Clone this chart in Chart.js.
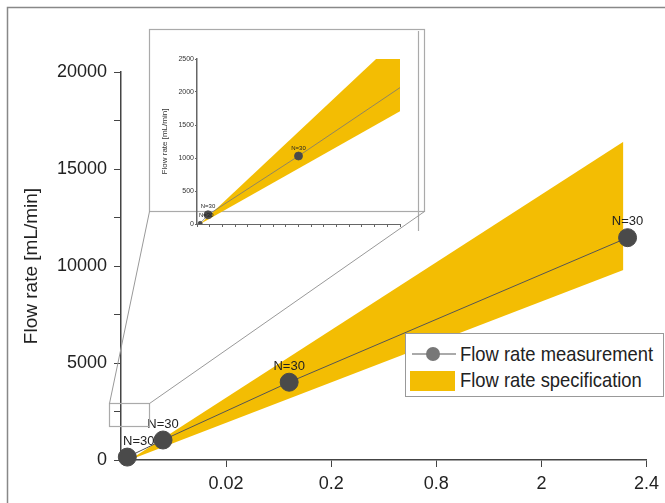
<!DOCTYPE html>
<html>
<head>
<meta charset="utf-8">
<script src="https://cdn.jsdelivr.net/npm/chart.js@4.4.1/dist/chart.umd.min.js"></script>
<style>
  html, body { margin: 0; padding: 0; background: #fff; }
  #wrap { position: relative; width: 665px; height: 503px; overflow: hidden; }
  #main { position: absolute; left: 0; top: 0; }
  #inset { position: absolute; left: 150px; top: 48px; }
  #legend {
    position: absolute; left: 405px; top: 333px; width: 259px; height: 64px;
    border: 1px solid #999; background: #fff; box-sizing: border-box;
    font-family: "Liberation Sans", Arial, sans-serif;
    font-size: 21px; color: #222;
  }
  .item { position: absolute; left: 0; width: 258px; height: 26px; line-height: 26px; }
  .item span {
    position: absolute; left: 54px; white-space: nowrap;
    transform: scaleX(0.875); transform-origin: left center;
  }
</style>
</head>
<body>
<div id="wrap">
  <canvas id="main" width="665" height="503"></canvas>
  <canvas id="inset" width="262" height="186"></canvas>
  <div id="legend">
    <div class="item" style="top:7px;">
      <svg width="50" height="26" style="position:absolute;left:4px;top:0;">
        <line x1="2" y1="13" x2="46" y2="13" stroke="#aaa" stroke-width="2"/>
        <circle cx="23" cy="13" r="7" fill="#777"/>
      </svg>
      <span>Flow rate measurement</span>
    </div>
    <div class="item" style="top:33px;">
      <div style="position:absolute;left:4px;top:4px;width:45px;height:20px;background:#F3BD03;"></div>
      <span>Flow rate specification</span>
    </div>
  </div>
</div>
<script>
// main chart data
const xTickLabels = ['', '0.02', '0.2', '0.8', '2', '2.4'];
const measX = [0.06, 0.40, 1.60, 4.82];
const measY = [150, 1030, 4010, 11460];
const nLabels = ['N=30', 'N=30', 'N=30', 'N=30'];
const specX = [0.08, 4.78];
const specUpper = [0, 16400];
const specLower = [0, 9800];

// inset (zoomed) data
const insetMeasX = [0.25, 0.87, 8.0, 31];
const insetMeasY = [10, 140, 1030, 4010];
const insetLabels = ['N=30', 'N=30', 'N=30', ''];
const insetSpecX = [0.25, 16];
const insetSpecUpper = [0, 2840];
const insetSpecLower = [0, 1710];

const yellow = '#F3BD03';
const sans = '"Liberation Sans", Arial, sans-serif';

function pts(xs, ys) {
    return xs.map((x, i) => ({ x: x, y: ys[i] }));
}

// draws the N=30 text above each measurement point
function nLabelPlugin(labels, font, gap) {
    return {
        id: 'nlabels',
        afterDatasetsDraw(chart) {
            const meta = chart.getDatasetMeta(2);
            const ctx = chart.ctx;
            ctx.save();
            ctx.font = font;
            ctx.fillStyle = '#222';
            ctx.textAlign = 'center';
            ctx.textBaseline = 'middle';
            meta.data.forEach((p, i) => {
                if (!labels[i] || p.x > chart.chartArea.right) return;
                let x = p.x;
                const w = ctx.measureText(labels[i]).width;
                if (x - w / 2 < chart.chartArea.left + 2) x = chart.chartArea.left + 2 + w / 2;
                ctx.fillText(labels[i], x, p.y - gap);
            });
            ctx.restore();
        }
    };
}

// frame, zoom rectangle, connecting lines and inset box
const decoPlugin = {
    id: 'deco',
    afterDraw(chart) {
        const ctx = chart.ctx;
        ctx.save();
        ctx.strokeStyle = '#888';
        ctx.lineWidth = 1.5;
        ctx.beginPath();
        ctx.moveTo(7.5, 503); ctx.lineTo(7.5, 7.5); ctx.lineTo(665, 7.5);
        ctx.stroke();

        ctx.strokeStyle = '#aaa';
        ctx.lineWidth = 1.2;
        ctx.fillStyle = '#fff';
        ctx.fillRect(149, 29, 276, 183);
        ctx.strokeRect(149.5, 29.5, 275, 182);
        ctx.beginPath();
        ctx.moveTo(418.5, 31); ctx.lineTo(418.5, 231);
        ctx.stroke();
        ctx.strokeRect(109.5, 403.5, 40, 23);

        ctx.strokeStyle = '#999';
        ctx.lineWidth = 1;
        ctx.beginPath();
        ctx.moveTo(109.5, 403.5); ctx.lineTo(149.5, 211.5);
        ctx.moveTo(149.5, 403.5); ctx.lineTo(424.5, 211.5);
        ctx.stroke();
        ctx.restore();
    }
};

new Chart(document.getElementById('main'), {
    type: 'line',
    data: {
        datasets: [
            { data: pts(specX, specUpper), order: 2, borderWidth: 0, pointRadius: 0, backgroundColor: yellow, fill: '+1' },
            { data: pts(specX, specLower), order: 2, borderWidth: 0, pointRadius: 0, fill: false },
            {
                data: pts(measX, measY), order: 0, borderColor: '#555', borderWidth: 1,
                pointRadius: 9, pointBackgroundColor: '#4a4a4a', pointBorderColor: '#4a4a4a', fill: false
            }
        ]
    },
    options: {
        responsive: false,
        animation: false,
        clip: false,
        layout: { padding: { left: 0, top: 72, right: 15, bottom: 0 } },
        plugins: { legend: { display: false }, tooltip: { enabled: false } },
        scales: {
            x: {
                type: 'linear', min: 0, max: 5,
                afterFit: s => { s.height = 43; },
                border: { color: '#444', width: 1.5 },
                grid: {
                    drawOnChartArea: false, tickLength: 7,
                    tickColor: c => c.tick && c.tick.value === 0 ? 'rgba(0,0,0,0)' : '#444'
                },
                ticks: {
                    stepSize: 1, padding: 6, color: '#222',
                    font: { family: sans, size: 18 },
                    callback: v => xTickLabels[v]
                }
            },
            y: {
                min: 0, max: 20000,
                afterFit: s => { s.width = 121; },
                border: { color: '#444', width: 1.5 },
                grid: { drawOnChartArea: false, tickLength: 7, tickColor: '#444' },
                ticks: {
                    stepSize: 2500, padding: 7, color: '#222',
                    font: { family: sans, size: 18 },
                    callback: v => v % 5000 === 0 ? String(v) : ''
                },
                title: {
                    display: true, text: 'Flow rate [mL/min]', color: '#222',
                    font: { family: sans, size: 19 }, padding: { top: 20, bottom: 0 }
                }
            }
        }
    },
    plugins: [decoPlugin, nLabelPlugin(nLabels, '13px ' + sans, 16)]
});

new Chart(document.getElementById('inset'), {
    type: 'line',
    data: {
        datasets: [
            { data: pts(insetSpecX, insetSpecUpper), order: 2, borderWidth: 0, pointRadius: 0, backgroundColor: yellow, fill: '+1' },
            { data: pts(insetSpecX, insetSpecLower), order: 2, borderWidth: 0, pointRadius: 0, fill: false },
            {
                data: pts(insetMeasX, insetMeasY), order: 0, borderColor: '#777', borderWidth: 0.8,
                pointRadius: [2, 4, 4, 4], pointBackgroundColor: '#4a4a4a', pointBorderColor: '#4a4a4a', fill: false
            }
        ]
    },
    options: {
        responsive: false,
        animation: false,
        layout: { padding: { left: 0, top: 11, right: 12, bottom: 0 } },
        plugins: { legend: { display: false }, tooltip: { enabled: false } },
        scales: {
            x: {
                type: 'linear', min: 0, max: 16,
                afterFit: s => { s.height = 10; },
                border: { color: '#666', width: 1 },
                grid: { drawOnChartArea: false, tickLength: 3, tickColor: '#666' },
                ticks: { stepSize: 1, display: true, callback: () => '', font: { size: 1 }, padding: 0 }
            },
            y: {
                min: 0, max: 2500,
                afterFit: s => { s.width = 47; },
                border: { color: '#666', width: 1.5 },
                grid: { drawOnChartArea: false, tickLength: 2, tickColor: '#666' },
                ticks: {
                    stepSize: 500, padding: 1, color: '#333',
                    font: { family: sans, size: 7 },
                    callback: v => String(v)
                },
                title: {
                    display: true, text: 'Flow rate [mL/min]', color: '#333',
                    font: { family: sans, size: 8 }, padding: { top: 10, bottom: 0 }
                }
            }
        }
    },
    plugins: [nLabelPlugin(insetLabels, '6px ' + sans, 8)]
});
</script>
</body>
</html>
